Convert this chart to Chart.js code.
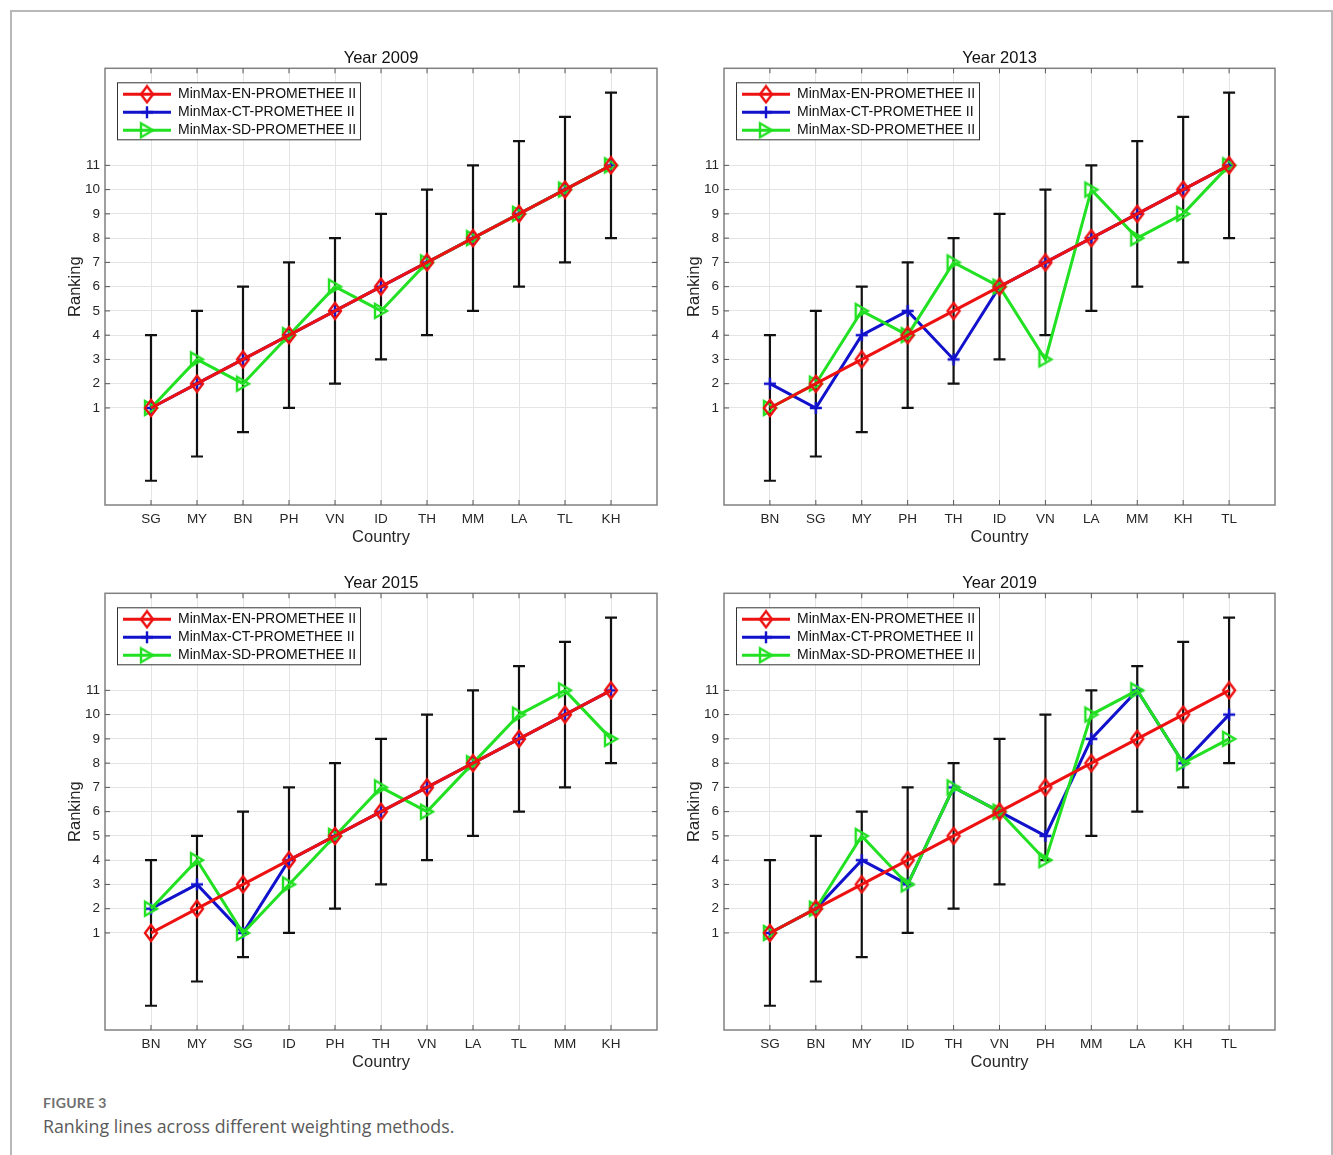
<!DOCTYPE html>
<html>
<head>
<meta charset="utf-8">
<title>Figure 3</title>
<script src="https://cdn.jsdelivr.net/npm/chart.js@4.4.0/dist/chart.umd.min.js"></script>
<style>
  body { margin: 0; background: #fff; width: 1333px; height: 1155px; position: relative; overflow: hidden; }
  #frame { position: absolute; left: 10px; top: 10px; width: 1319px; height: 1200px; border: 2px solid #b8b8b8; border-bottom: none; }
  canvas { position: absolute; }
  #figNo { position: absolute; left: 43px; top: 1094px; font: 700 14px Lato, sans-serif; color: #707070; letter-spacing: 0.3px; }
  #figText { position: absolute; left: 43px; top: 1114px; font: 17.8px "Open Sans", sans-serif; color: #5a5a5a; }
</style>
</head>
<body>
<div id="frame"></div>
<canvas id="c2009" width="630" height="520" style="left:40px;top:40px"></canvas>
<canvas id="c2013" width="629" height="520" style="left:659px;top:40px"></canvas>
<canvas id="c2015" width="630" height="520" style="left:40px;top:565px"></canvas>
<canvas id="c2019" width="629" height="520" style="left:659px;top:565px"></canvas>
<div id="figNo">FIGURE 3</div>
<div id="figText">Ranking lines across different weighting methods.</div>

<script>
// series names / colours
const seriesNames = ['MinMax-EN-PROMETHEE II', 'MinMax-CT-PROMETHEE II', 'MinMax-SD-PROMETHEE II'];
const seriesColors = ['#ee1111', '#1212cc', '#22e022'];
const rankTicks = [1, 2, 3, 4, 5, 6, 7, 8, 9, 10, 11];

// error bars (same in every panel)
const errLow = [-2, -1, 0, 1, 2, 3, 4, 5, 6, 7, 8];
const errHigh = [4, 5, 6, 7, 8, 9, 10, 11, 12, 13, 14];

// Year 2009
const cats2009 = ['SG', 'MY', 'BN', 'PH', 'VN', 'ID', 'TH', 'MM', 'LA', 'TL', 'KH'];
const en2009 = [1, 2, 3, 4, 5, 6, 7, 8, 9, 10, 11];
const ct2009 = [1, 2, 3, 4, 5, 6, 7, 8, 9, 10, 11];
const sd2009 = [1, 3, 2, 4, 6, 5, 7, 8, 9, 10, 11];

// Year 2013
const cats2013 = ['BN', 'SG', 'MY', 'PH', 'TH', 'ID', 'VN', 'LA', 'MM', 'KH', 'TL'];
const en2013 = [1, 2, 3, 4, 5, 6, 7, 8, 9, 10, 11];
const ct2013 = [2, 1, 4, 5, 3, 6, 7, 8, 9, 10, 11];
const sd2013 = [1, 2, 5, 4, 7, 6, 3, 10, 8, 9, 11];

// Year 2015
const cats2015 = ['BN', 'MY', 'SG', 'ID', 'PH', 'TH', 'VN', 'LA', 'TL', 'MM', 'KH'];
const en2015 = [1, 2, 3, 4, 5, 6, 7, 8, 9, 10, 11];
const ct2015 = [2, 3, 1, 4, 5, 6, 7, 8, 9, 10, 11];
const sd2015 = [2, 4, 1, 3, 5, 7, 6, 8, 10, 11, 9];

// Year 2019
const cats2019 = ['SG', 'BN', 'MY', 'ID', 'TH', 'VN', 'PH', 'MM', 'LA', 'KH', 'TL'];
const en2019 = [1, 2, 3, 4, 5, 6, 7, 8, 9, 10, 11];
const ct2019 = [1, 2, 4, 3, 7, 6, 5, 9, 11, 8, 10];
const sd2019 = [1, 2, 5, 3, 7, 6, 4, 10, 11, 8, 9];

const FONT = 'Liberation Sans';
const TXT = '#262626';

// matlab style markers drawn on small canvases
const makeMarker = (kind, color) => {
  const c = document.createElement('canvas');
  c.width = 20; c.height = 20;
  const g = c.getContext('2d');
  g.strokeStyle = color;
  g.lineWidth = 2.4;
  g.beginPath();
  if (kind === 'diamond') {
    g.moveTo(10, 2); g.lineTo(16, 10); g.lineTo(10, 18); g.lineTo(4, 10); g.closePath();
  } else if (kind === 'tri') {
    g.moveTo(4, 3); g.lineTo(16, 10); g.lineTo(4, 17); g.closePath();
  } else {
    g.moveTo(10, 4); g.lineTo(10, 16); g.moveTo(4, 10); g.lineTo(16, 10);
  }
  g.stroke();
  return c;
};
const markers = [makeMarker('diamond', seriesColors[0]), makeMarker('plus', seriesColors[1]), makeMarker('tri', seriesColors[2])];

const inRange = (v) => rankTicks.includes(v);

// black error bars behind the lines
const errorBars = {
  id: 'errorBars',
  beforeDatasetsDraw(chart) {
    const {ctx, scales: {x, y}} = chart;
    ctx.save();
    ctx.strokeStyle = '#111';
    ctx.lineWidth = 2.2;
    errLow.forEach((lo, i) => {
      const px = x.getPixelForValue(i + 1);
      const p1 = y.getPixelForValue(lo);
      const p2 = y.getPixelForValue(errHigh[i]);
      ctx.beginPath();
      ctx.moveTo(px, p1); ctx.lineTo(px, p2);
      ctx.moveTo(px - 6, p1); ctx.lineTo(px + 6, p1);
      ctx.moveTo(px - 6, p2); ctx.lineTo(px + 6, p2);
      ctx.stroke();
    });
    ctx.restore();
  }
};

// axes box + inward tick marks
const axesBox = {
  id: 'axesBox',
  afterDatasetsDraw(chart) {
    const {ctx, chartArea: a, scales: {x, y}} = chart;
    ctx.save();
    ctx.strokeStyle = '#808080';
    ctx.lineWidth = 1.5;
    ctx.strokeRect(a.left, a.top, a.right - a.left, a.bottom - a.top);
    ctx.lineWidth = 1;
    ctx.strokeStyle = '#555';
    ctx.beginPath();
    rankTicks.forEach((v) => {
      const py = y.getPixelForValue(v);
      ctx.moveTo(a.left, py); ctx.lineTo(a.left + 5, py);
      ctx.moveTo(a.right, py); ctx.lineTo(a.right - 5, py);
      const px = x.getPixelForValue(v);
      ctx.moveTo(px, a.bottom); ctx.lineTo(px, a.bottom - 5);
      ctx.moveTo(px, a.top); ctx.lineTo(px, a.top + 5);
    });
    ctx.stroke();
    ctx.restore();
  }
};

// legend inside the plot, upper left
const legendBox = {
  id: 'legendBox',
  afterDatasetsDraw(chart) {
    const {ctx, chartArea: a} = chart;
    const x = a.left + 12, y = a.top + 14, w = 243, h = 57;
    ctx.save();
    ctx.fillStyle = '#fff';
    ctx.fillRect(x, y, w, h);
    ctx.strokeStyle = '#333';
    ctx.lineWidth = 1;
    ctx.strokeRect(x + 0.5, y + 0.5, w, h);
    chart.data.datasets.forEach((ds, i) => {
      const ly = y + 12 + i * 18;
      ctx.strokeStyle = ds.borderColor;
      ctx.lineWidth = ds.borderWidth;
      ctx.beginPath();
      ctx.moveTo(x + 6, ly); ctx.lineTo(x + 54, ly);
      ctx.stroke();
      Chart.helpers.drawPoint(ctx, {pointStyle: ds.pointStyle, radius: 5, rotation: 0}, x + 30, ly);
      ctx.fillStyle = '#111';
      ctx.font = '14px "' + FONT + '"';
      ctx.textBaseline = 'middle';
      ctx.fillText(ds.label, x + 61, ly);
    });
    ctx.restore();
  }
};

const toPts = (arr) => arr.map((v, i) => ({x: i + 1, y: v}));

const drawPanel = (id, year, cats, en, ct, sd) => {
  const series = [en, ct, sd];
  const drawOrder = [0, 2, 1]; // red on top, then green, blue at the back
  const datasets = series.map((vals, k) => ({
    label: seriesNames[k],
    data: toPts(vals),
    borderColor: seriesColors[k],
    backgroundColor: seriesColors[k],
    borderWidth: 3,
    pointStyle: markers[k],
    pointRadius: 6,
    order: drawOrder[k],
    tension: 0
  }));

  new Chart(document.getElementById(id), {
    type: 'line',
    data: {datasets},
    options: {
      responsive: false,
      animation: false,
      devicePixelRatio: 1,
      layout: {padding: {left: 0, right: 13, top: 0, bottom: 0}},
      plugins: {
        legend: {display: false},
        tooltip: {enabled: false},
        title: {
          display: true,
          text: 'Year ' + year,
          fullSize: false,
          color: '#111',
          font: {family: FONT, size: 16.5, weight: 'normal'},
          padding: {top: 8.5, bottom: 0}
        }
      },
      scales: {
        x: {
          type: 'linear', min: 0, max: 12,
          afterFit: (s) => { s.height = 55; },
          border: {display: false},
          grid: {color: (c) => inRange(c.tick.value) ? '#e4e4e4' : 'rgba(0,0,0,0)', drawTicks: false},
          ticks: {
            stepSize: 1, autoSkip: false, maxRotation: 0, padding: 6, color: TXT,
            font: {family: FONT, size: 13.5},
            callback: (v) => cats[v - 1] ?? ''
          },
          title: {display: true, text: 'Country', color: TXT, font: {family: FONT, size: 16.5}, padding: {top: 0, bottom: 13}}
        },
        y: {
          min: -3, max: 15,
          afterFit: (s) => { s.width = 65; },
          border: {display: false},
          grid: {color: (c) => inRange(c.tick.value) ? '#e4e4e4' : 'rgba(0,0,0,0)', drawTicks: false},
          ticks: {
            stepSize: 1, autoSkip: false, padding: 5, color: TXT,
            font: {family: FONT, size: 13.5},
            callback: (v) => inRange(v) ? String(v) : ''
          },
          title: {display: true, text: 'Ranking', color: TXT, font: {family: FONT, size: 16.5}, padding: {top: 26, bottom: 0}}
        }
      }
    },
    plugins: [errorBars, axesBox, legendBox]
  });
};

drawPanel('c2009', 2009, cats2009, en2009, ct2009, sd2009);
drawPanel('c2013', 2013, cats2013, en2013, ct2013, sd2013);
drawPanel('c2015', 2015, cats2015, en2015, ct2015, sd2015);
drawPanel('c2019', 2019, cats2019, en2019, ct2019, sd2019);
</script>
</body>
</html>
